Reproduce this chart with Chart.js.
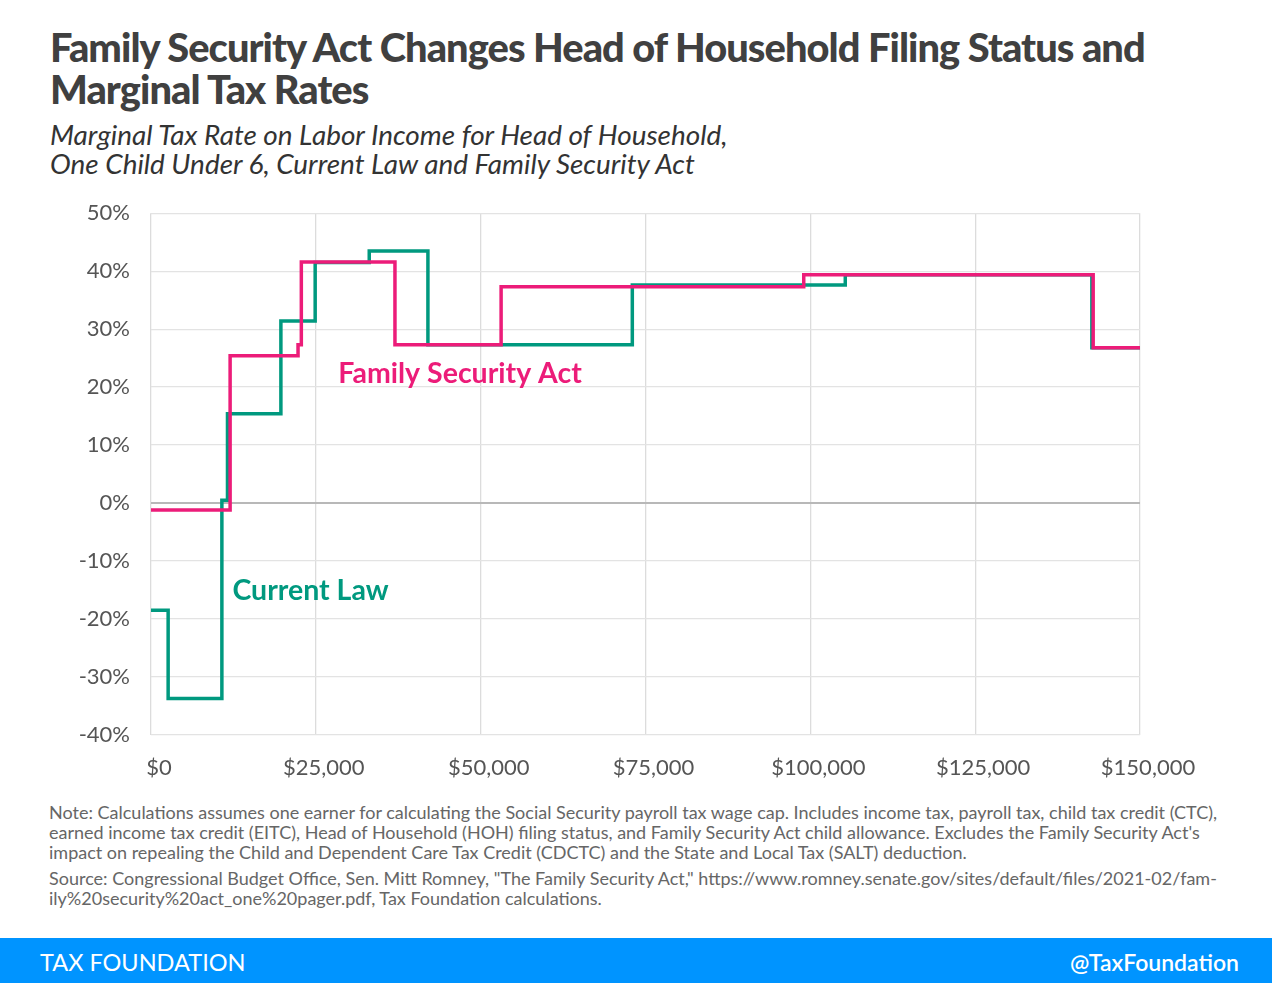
<!DOCTYPE html>
<html>
<head>
<meta charset="utf-8">
<script src="https://cdn.jsdelivr.net/npm/chart.js@4.4.1/dist/chart.umd.min.js"></script>
<style>
	body { margin: 0; width: 1272px; height: 983px; background: #fff; font-family: Lato, sans-serif; position: relative; overflow: hidden; }
	#title { position: absolute; left: 50px; top: 26px; font-size: 39.8px; font-weight: 900; color: #404040; line-height: 42px; letter-spacing: -0.95px; }
	#subtitle { position: absolute; left: 50px; top: 120px; font-size: 27.9px; font-style: italic; color: #333; line-height: 29px; }
	#chartBox { position: absolute; left: 0; top: 179px; width: 1272px; height: 611px; }
	#notes { position: absolute; left: 49px; top: 802px; width: 1200px; font-size: 18px; color: #666; line-height: 20px; white-space: nowrap; }
	#notes p { margin: 0 0 6px 0; }
	#footer { position: absolute; left: 0; top: 938px; width: 1272px; height: 45px; background: #0094ff; color: #fff; }
	#footer .left { position: absolute; left: 40px; top: 10px; font-size: 23.5px; }
	#footer .right { position: absolute; right: 33px; top: 10px; font-size: 23px; font-weight: 600; }
</style>
</head>
<body>
<div id="title">Family Security Act Changes Head of Household Filing Status and<br>Marginal Tax Rates</div>
<div id="subtitle">Marginal Tax Rate on Labor Income for Head of Household,<br>One Child Under 6, Current Law and Family Security Act</div>
<div id="chartBox"><canvas id="mtr"></canvas></div>
<div id="notes">
	<p>Note: Calculations assumes one earner for calculating the Social Security payroll tax wage cap. Includes income tax, payroll tax, child tax credit (CTC),<br>earned income tax credit (EITC), Head of Household (HOH) filing status, and Family Security Act child allowance. Excludes the Family Security Act's<br>impact on repealing the Child and Dependent Care Tax Credit (CDCTC) and the State and Local Tax (SALT) deduction.</p>
	<p>Source: Congressional Budget Office, Sen. Mitt Romney, "The Family Security Act," https://www.romney.senate.gov/sites/default/files/2021-02/fam-<br>ily%20security%20act_one%20pager.pdf, Tax Foundation calculations.</p>
</div>
<div id="footer"><span class="left">TAX FOUNDATION</span><span class="right">@TaxFoundation</span></div>

<script>
// ----- ----- -----
// data (income where each step starts, marginal rate in %)
// ----- ----- -----

const currentLawIncome = [0, 2600, 10750, 11600, 19700, 24900, 33100, 42000, 73000, 105300, 142700, 150000];
const currentLawRate = [-18.5, -33.7, 0.5, 15.4, 31.4, 41.5, 43.5, 27.3, 37.6, 39.4, 26.8, 26.8];

const fsaIncome = [0, 12000, 22300, 22800, 37000, 53100, 99000, 142900, 150000];
const fsaRate = [-1.2, 25.4, 27.3, 41.6, 27.3, 37.3, 39.4, 26.8, 26.8];

const xTicks = [0, 25000, 50000, 75000, 100000, 125000, 150000];
const yTicks = [-40, -30, -20, -10, 0, 10, 20, 30, 40, 50];

// series labels drawn inside the plot: [text, income, rate]
const lineLabels = [
	['Family Security Act', 28400, 22.3, '#ec1c79'],
	['Current Law', 12350, -15.1, '#00997f']
];

function toPoints(xs, ys) {
	return xs.map((x, i) => ({x: x, y: ys[i]}));
}

const teal = '#00997f';
const pink = '#ec1c79';

const labelPlugin = {
	id: 'lineLabels',
	afterDatasetsDraw(chart) {
		const c = chart.ctx;
		const xs = chart.scales.x;
		const ys = chart.scales.y;
		c.save();
		c.font = 'bold 28.5px Lato';
		c.textBaseline = 'middle';
		c.textAlign = 'left';
		lineLabels.forEach((l) => {
			c.fillStyle = l[3];
			c.fillText(l[0], xs.getPixelForValue(l[1]), ys.getPixelForValue(l[2]));
		});
		c.restore();
	}
};

// first dataset is drawn on top, so the pink line comes first
const mtrChart = new Chart('mtr', {
	type: 'line',
	data: {
		datasets: [{
			label: 'Family Security Act',
			data: toPoints(fsaIncome, fsaRate),
			borderColor: pink,
			borderWidth: 3.5,
			stepped: 'before',
			pointRadius: 0,
			fill: false
		}, {
			label: 'Current Law',
			data: toPoints(currentLawIncome, currentLawRate),
			borderColor: teal,
			borderWidth: 3.5,
			stepped: 'before',
			pointRadius: 0,
			fill: false
		}]
	},
	options: {
		responsive: true,
		maintainAspectRatio: false,
		animation: false,
		layout: {
			padding: {top: 14, right: 132, bottom: 0, left: 0}
		},
		plugins: {
			legend: {display: false},
			tooltip: {enabled: false}
		},
		scales: {
			x: {
				type: 'linear',
				min: 0,
				max: 150000,
				afterBuildTicks: (scale) => { scale.ticks = xTicks.map(v => ({value: v})); },
				afterFit: (scale) => { scale.height = 55; },
				border: {display: false},
				grid: {color: '#dcdcdc', lineWidth: 1.3, drawTicks: false},
				ticks: {
					padding: 20,
					labelOffset: 8,
					maxRotation: 0,
					color: '#555',
					font: {family: 'Lato', size: 22},
					callback: (v) => '$' + v.toLocaleString('en-US')
				}
			},
			y: {
				min: -40,
				max: 50,
				afterBuildTicks: (scale) => { scale.ticks = yTicks.map(v => ({value: v})); },
				afterFit: (scale) => { scale.width = 151; },
				border: {display: false},
				grid: {
					color: (ctx) => ctx.tick && ctx.tick.value === 0 ? '#b8b8b8' : '#e3e3e3',
					lineWidth: (ctx) => ctx.tick && ctx.tick.value === 0 ? 2 : 1.3,
					drawTicks: false
				},
				ticks: {
					padding: 21,
					color: '#555',
					font: {family: 'Lato', size: 22},
					callback: (v) => v + '%'
				}
			}
		}
	},
	plugins: [labelPlugin]
});
</script>
</body>
</html>
